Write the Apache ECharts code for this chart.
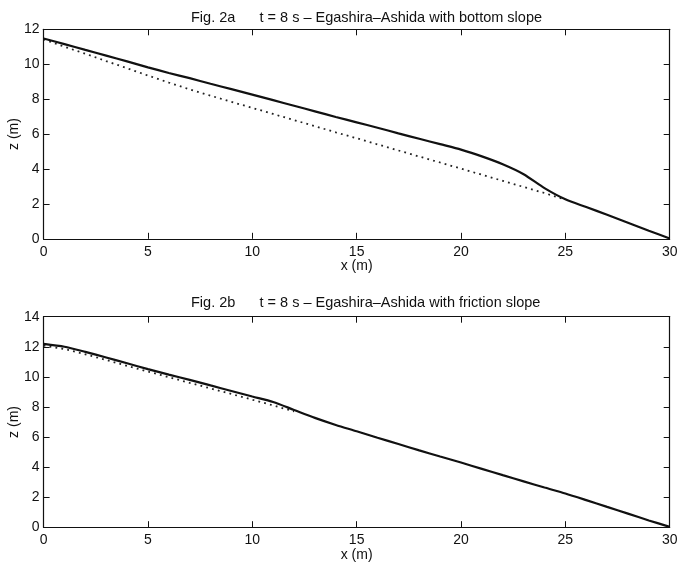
<!DOCTYPE html>
<html>
<head>
<meta charset="utf-8">
<script src="https://cdn.jsdelivr.net/npm/echarts@6/dist/echarts.min.js"></script>
<style>
  html, body { margin: 0; padding: 0; background: #fff; }
  #chart { width: 678px; height: 566px; }
</style>
</head>
<body>
<div id="chart"></div>
<script>
// Bed profiles along the channel, x in metres
const xTicks = [0, 5, 10, 15, 20, 25, 30];

// Fig. 2a: bottom-slope closure
const xA = [0, 1, 2, 3, 4, 5, 6, 7, 8, 9, 10, 11, 12, 13, 14, 15, 16, 17, 18, 19, 20, 21, 22, 23, 24, 25, 26, 27, 28, 29, 30];
const zA = [11.47, 11.15, 10.82, 10.49, 10.16, 9.82, 9.5, 9.2, 8.88, 8.57, 8.26, 7.94, 7.62, 7.3, 6.98, 6.67, 6.36, 6.04, 5.73, 5.42, 5.11, 4.72, 4.27, 3.7, 2.9, 2.26, 1.82, 1.38, 0.92, 0.46, 0.02];
const xA0 = [0, 1, 2, 3, 4, 5, 6, 7, 8, 9, 10, 11, 12, 13, 14, 15, 16, 17, 18, 19, 20, 21, 22, 23, 24, 24.85];
const zA0 = [11.42, 11.0, 10.6, 10.18, 9.77, 9.35, 8.95, 8.56, 8.2, 7.84, 7.5, 7.15, 6.8, 6.45, 6.1, 5.76, 5.41, 5.06, 4.71, 4.37, 4.02, 3.67, 3.32, 2.97, 2.62, 2.3];

// Fig. 2b: friction-slope closure
const xB = [0, 1, 2, 3, 4, 5, 6, 7, 8, 9, 10, 11, 12, 13, 14, 15, 16, 17, 18, 19, 20, 21, 22, 23, 24, 25, 26, 27, 28, 29, 30];
const zB = [12.19, 12.0, 11.66, 11.29, 10.9, 10.51, 10.15, 9.8, 9.43, 9.06, 8.69, 8.33, 7.8, 7.27, 6.8, 6.38, 5.95, 5.53, 5.11, 4.7, 4.3, 3.88, 3.46, 3.05, 2.64, 2.24, 1.8, 1.35, 0.9, 0.45, 0.02];
const xB0 = [0, 1, 2, 3, 4, 5, 6, 7, 8, 9, 10, 11, 12];
const zB0 = [12.08, 11.85, 11.5, 11.12, 10.73, 10.35, 9.98, 9.6, 9.23, 8.86, 8.48, 8.1, 7.7];

const titleA = 'Fig. 2a      t = 8 s \u2013 Egashira\u2013Ashida with bottom slope';
const titleB = 'Fig. 2b      t = 8 s \u2013 Egashira\u2013Ashida with friction slope';
const xName = 'x (m)';
const zName = 'z (m)';

const FONT = '"Liberation Sans", Arial, Helvetica, sans-serif';
const INK = '#111';

function pairs(xs, ys) { return xs.map((x, i) => [x, ys[i]]); }

function xAxes(gridIndex) {
  const base = {
    type: 'value', gridIndex, min: 0, max: 30, interval: 5,
    axisLine: { show: true, onZero: false, lineStyle: { color: INK, width: 1.2 } },
    axisTick: { show: true, inside: true, length: 6, lineStyle: { color: INK, width: 1 } },
    splitLine: { show: false }
  };
  return [
    Object.assign({}, base, {
      position: 'bottom',
      name: xName, nameLocation: 'middle', nameGap: 20.5, nameMoveOverlap: false,
      nameTextStyle: { color: INK, fontSize: 14, fontFamily: FONT },
      axisLabel: { color: INK, fontSize: 14, fontFamily: FONT, margin: 6 }
    }),
    Object.assign({}, base, { position: 'top', axisLabel: { show: false } })
  ];
}

function yAxes(gridIndex, maxZ) {
  const base = {
    type: 'value', gridIndex, min: 0, max: maxZ, interval: 2,
    axisLine: { show: true, onZero: false, lineStyle: { color: INK, width: 1.2 } },
    axisTick: { show: true, inside: true, length: 6, lineStyle: { color: INK, width: 1 } },
    splitLine: { show: false }
  };
  return [
    Object.assign({}, base, {
      position: 'left',
      name: zName, nameLocation: 'middle', nameGap: 22, nameRotate: 90, nameMoveOverlap: false,
      nameTextStyle: { color: INK, fontSize: 14, fontFamily: FONT },
      axisLabel: { color: INK, fontSize: 14, fontFamily: FONT, margin: 4 }
    }),
    Object.assign({}, base, { position: 'right', axisLabel: { show: false } })
  ];
}

const solid = { color: INK, width: 2.2, type: 'solid' };
const dotted = { color: '#222', width: 1.8, type: [1.8, 4.2], cap: 'butt' };

function line(data, xi, yi, style, smooth) {
  return {
    type: 'line', xAxisIndex: xi, yAxisIndex: yi, data,
    showSymbol: false, symbol: 'none',
    smooth: smooth || false,
    lineStyle: style, silent: true, animation: false
  };
}

const chart = echarts.init(document.getElementById('chart'), null, { renderer: 'canvas' });
chart.setOption({
  backgroundColor: '#fff',
  animation: false,
  title: [
    { text: titleA, left: 186, top: 5, textStyle: { color: INK, fontSize: 14.5, fontWeight: 'normal', fontFamily: FONT } },
    { text: titleB, left: 186, top: 290, textStyle: { color: INK, fontSize: 14.5, fontWeight: 'normal', fontFamily: FONT } }
  ],
  grid: [
    { left: 43.6, right: 8.3, top: 29.3, height: 209.5, outerBoundsMode: 'none', containLabel: false },
    { left: 43.6, right: 8.3, top: 316.7, height: 210.5, outerBoundsMode: 'none', containLabel: false }
  ],
  xAxis: [...xAxes(0), ...xAxes(1)],
  yAxis: [...yAxes(0, 12), ...yAxes(1, 14)],
  series: [
    line(pairs(xA0, zA0), 0, 0, dotted),
    line(pairs(xA, zA), 0, 0, solid, 0.25),
    line(pairs(xB0, zB0), 2, 2, dotted),
    line(pairs(xB, zB), 2, 2, solid, 0.25)
  ]
});
</script>
</body>
</html>
